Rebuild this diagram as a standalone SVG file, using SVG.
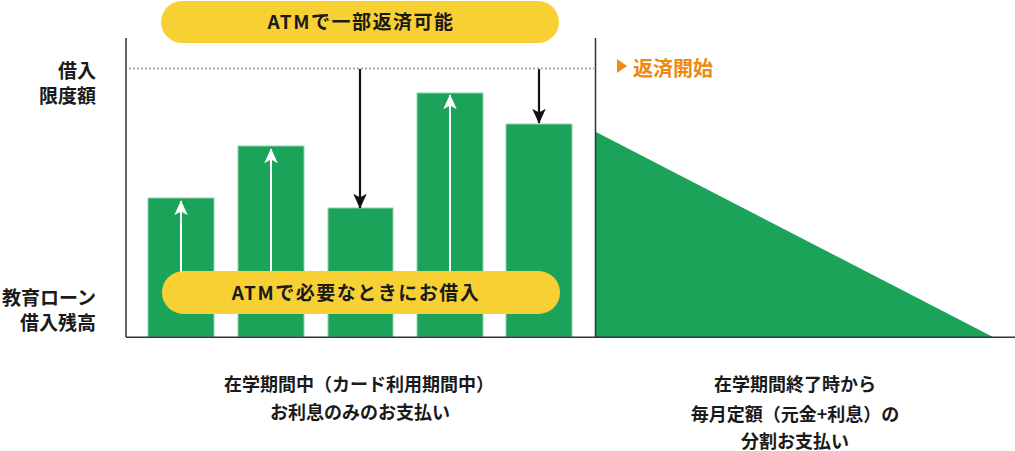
<svg xmlns="http://www.w3.org/2000/svg" width="1015" height="451" viewBox="0 0 1015 451">
<style>
text{font-family:"Noto Sans CJK JP","Noto Sans",sans-serif;font-weight:700}
.lbl{font-size:19px;fill:#1a1a1a}
.or{fill:#ee8a12}
.bar{fill:#1ba35a;stroke:#8fd3ac;stroke-width:1}
.pill{fill:#f7d033}
.pt{font-size:18px;fill:#1a1a1a;text-anchor:middle}
.pl{font-size:19px;letter-spacing:1.5px}
.axis{stroke:#333;stroke-width:1.5;fill:none}
.wa{stroke:#fff;stroke-width:2;fill:none}
.ba{stroke:#111;stroke-width:2.2;fill:none}
</style>
<defs>
<marker id="wh" viewBox="0 0 10 10" refX="9.5" refY="5" markerWidth="15" markerHeight="15" markerUnits="userSpaceOnUse" orient="auto"><path d="M0,0.5 L10,5 L0,9.5 L2.5,5 Z" fill="#fff"/></marker>
<marker id="bh" viewBox="0 0 10 10" refX="9.5" refY="5" markerWidth="15" markerHeight="15" markerUnits="userSpaceOnUse" orient="auto"><path d="M0,0.5 L10,5 L0,9.5 L2.5,5 Z" fill="#111"/></marker>
</defs>
<g id="repay-area"><polygon points="596,132 993,337 596,337" fill="#1ba35a"/></g>
<g id="bars">
<rect id="bar1" class="bar" x="148" y="198" width="66" height="139"/>
<rect id="bar2" class="bar" x="238" y="146" width="66" height="191"/>
<rect id="bar3" class="bar" x="328" y="208" width="65" height="129"/>
<rect id="bar4" class="bar" x="417" y="93" width="66" height="244"/>
<rect id="bar5" class="bar" x="506" y="124" width="66" height="213"/>
</g>
<g id="connectors">
<line class="wa" x1="181" y1="272" x2="181" y2="201" marker-end="url(#wh)"/>
<line class="wa" x1="271" y1="272" x2="271" y2="149" marker-end="url(#wh)"/>
<line class="wa" x1="450" y1="272" x2="450" y2="95" marker-end="url(#wh)"/>
<line class="ba" x1="360" y1="69" x2="360" y2="208" marker-end="url(#bh)"/>
<line class="ba" x1="539" y1="69" x2="539" y2="123" marker-end="url(#bh)"/>
</g>
<g id="axes">
<line x1="129" y1="68.5" x2="594" y2="68.5" stroke="#aaa" stroke-width="2" stroke-dasharray="2,2"/>
<line class="axis" x1="126" y1="38" x2="126" y2="337"/>
<line class="axis" x1="595.5" y1="38" x2="595.5" y2="337"/>
<line class="axis" x1="126" y1="337.3" x2="1015" y2="337.3"/>
</g>
<g id="pill-top"><rect class="pill" x="161" y="1" width="398" height="42" rx="21"/><text class="pt pl" x="361" y="29">ATMで一部返済可能</text></g>
<g id="pill-bottom"><rect class="pill" x="162" y="271" width="398" height="43" rx="21.5"/><text class="pt pl" x="356" y="300">ATMで必要なときにお借入</text></g>
<g id="ylabel-limit"><text class="lbl" x="96" y="78" text-anchor="end">借入</text><text class="lbl" x="96" y="103" text-anchor="end">限度額</text></g>
<g id="ylabel-balance"><text class="lbl" x="96" y="305" text-anchor="end">教育ローン</text><text class="lbl" x="96" y="330" text-anchor="end">借入残高</text></g>
<g id="repay-start"><polygon points="617,59 627,66 617,73" fill="#ee8a12"/><text class="lbl or" style="font-size:20px" x="633" y="76">返済開始</text></g>
<g id="caption-left"><text class="pt" x="359" y="391">在学期間中（カード利用期間中）</text><text class="pt or" x="360" y="419">お利息のみのお支払い</text></g>
<g id="caption-right"><text class="pt" x="795" y="391">在学期間終了時から</text><text class="pt or" x="795" y="421">毎月定額（元金+利息）の</text><text class="pt or" x="795" y="448">分割お支払い</text></g>
</svg>
